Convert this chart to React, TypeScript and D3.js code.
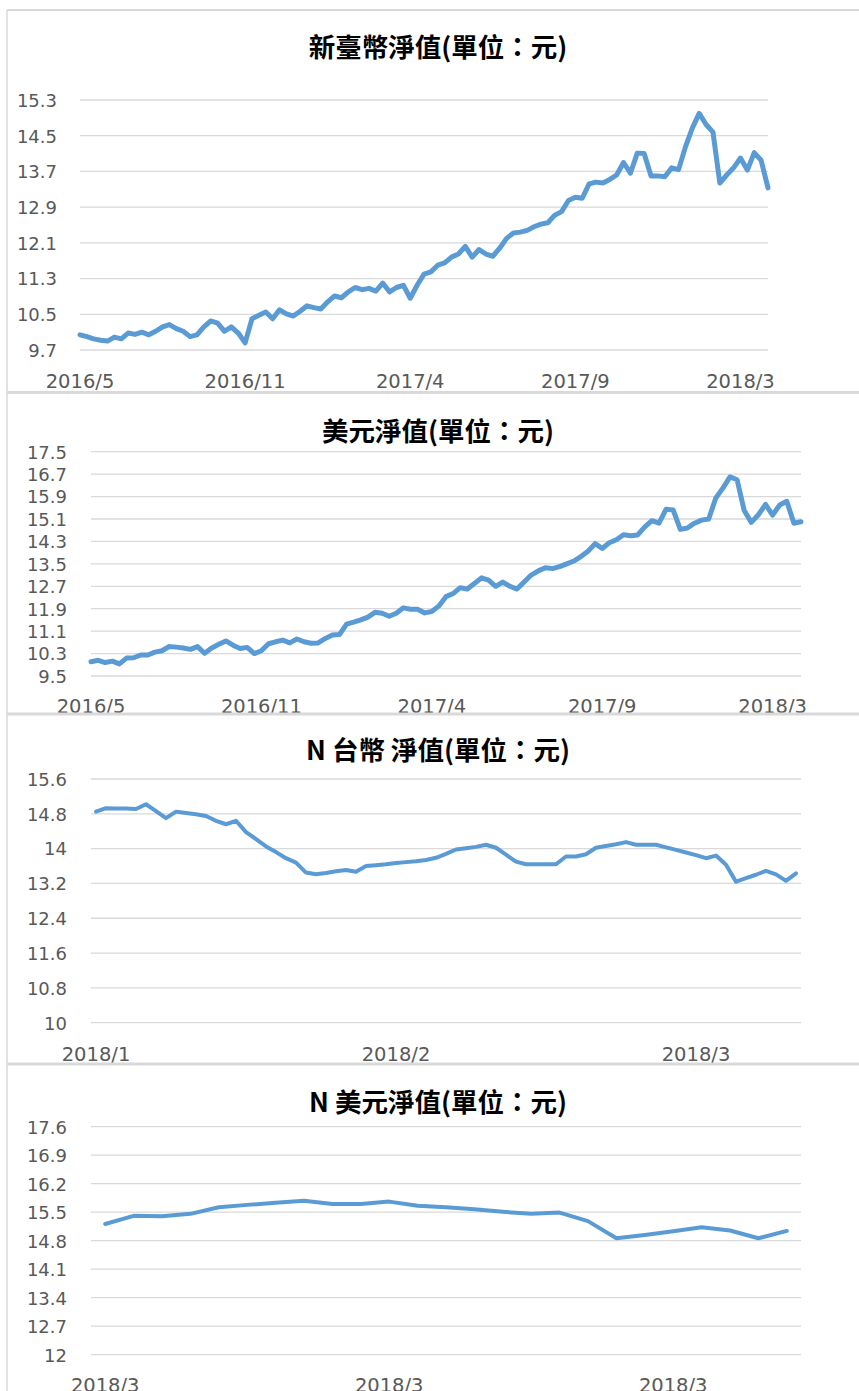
import * as d3 from "d3";

// ---- data ----
const NTD_LABELS = ["2016/5", "2016/11", "2017/4", "2017/9", "2018/3"];
const NTD_TICKS = [9.7, 10.5, 11.3, 12.1, 12.9, 13.7, 14.5, 15.3];
const NTD_VALUES = [
	10.04, 10.0, 9.95, 9.92, 9.9, 9.99, 9.95, 10.08, 10.05, 10.1,
	10.04, 10.12, 10.22, 10.27, 10.18, 10.12, 10.0, 10.04, 10.22, 10.35,
	10.3, 10.12, 10.22, 10.08, 9.86, 10.4, 10.48, 10.55, 10.4, 10.6,
	10.51, 10.46, 10.57, 10.69, 10.65, 10.62, 10.78, 10.91, 10.87, 11.0,
	11.1, 11.05, 11.08, 11.02, 11.2, 11.0, 11.1, 11.15, 10.86, 11.15,
	11.4, 11.45, 11.6, 11.65, 11.78, 11.85, 12.02, 11.78, 11.95, 11.85,
	11.8, 11.98, 12.2, 12.32, 12.34, 12.38, 12.46, 12.52, 12.55, 12.72,
	12.8, 13.05, 13.12, 13.1, 13.42, 13.46, 13.44, 13.52, 13.62, 13.9,
	13.66, 14.11, 14.1, 13.6, 13.6, 13.58, 13.78, 13.74, 14.25, 14.67,
	15.0, 14.75, 14.58, 13.44, 13.62, 13.78, 14.0, 13.73, 14.12, 13.95,
	13.33,
];

const USD_LABELS = ["2016/5", "2016/11", "2017/4", "2017/9", "2018/3"];
const USD_TICKS = [9.5, 10.3, 11.1, 11.9, 12.7, 13.5, 14.3, 15.1, 15.9, 16.7, 17.5];
const USD_VALUES = [
	10.01, 10.06, 9.98, 10.03, 9.93, 10.14, 10.15, 10.25, 10.25, 10.35,
	10.4, 10.55, 10.53, 10.5, 10.45, 10.55, 10.31, 10.5, 10.63, 10.75,
	10.6, 10.48, 10.52, 10.3, 10.4, 10.65, 10.72, 10.78, 10.68, 10.82,
	10.72, 10.67, 10.68, 10.84, 10.96, 10.98, 11.35, 11.42, 11.5, 11.6,
	11.77, 11.74, 11.63, 11.74, 11.93, 11.88, 11.88, 11.75, 11.8, 12.0,
	12.33, 12.44, 12.65, 12.6, 12.8, 13.0, 12.92, 12.7, 12.85, 12.7,
	12.6, 12.85, 13.1, 13.25, 13.36, 13.33, 13.4, 13.5, 13.6, 13.76,
	13.95, 14.22, 14.05, 14.25, 14.36, 14.54, 14.5, 14.53, 14.82, 15.04,
	14.95, 15.45, 15.42, 14.73, 14.78, 14.95, 15.06, 15.1, 15.85, 16.2,
	16.6, 16.5, 15.4, 14.98, 15.25, 15.62, 15.24, 15.6, 15.73, 14.95,
	15.0,
];

const N_NTD_LABELS = ["2018/1", "2018/2", "2018/3"];
const N_NTD_TICKS = [10, 10.8, 11.6, 12.4, 13.2, 14, 14.8, 15.6];
const N_NTD_VALUES = [
	14.85, 14.93, 14.92, 14.92, 14.91, 15.02, 14.86, 14.7, 14.85, 14.82,
	14.79, 14.75, 14.64, 14.56, 14.64, 14.38, 14.22, 14.05, 13.92, 13.78,
	13.68, 13.45, 13.41, 13.44, 13.48, 13.51, 13.47, 13.6, 13.62, 13.64,
	13.67, 13.69, 13.71, 13.74, 13.79, 13.88, 13.98, 14.01, 14.04, 14.09,
	14.02, 13.86, 13.7, 13.64, 13.64, 13.64, 13.64, 13.82, 13.82, 13.87,
	14.02, 14.06, 14.1, 14.15, 14.09, 14.09, 14.09, 14.03, 13.97, 13.91,
	13.85, 13.78, 13.84, 13.63, 13.24, 13.32, 13.4, 13.49, 13.41, 13.26,
	13.43,
];

const N_USD_LABELS = ["2018/3", "2018/3", "2018/3"];
const N_USD_TICKS = [12, 12.7, 13.4, 14.1, 14.8, 15.5, 16.2, 16.9, 17.6];
const N_USD_VALUES = [
	15.21, 15.41, 15.4, 15.46, 15.62, 15.68, 15.73, 15.78, 15.7, 15.7,
	15.76, 15.66, 15.62, 15.57, 15.51, 15.46, 15.49, 15.28, 14.86, 14.94,
	15.03, 15.13, 15.05, 14.86, 15.04,
];

const LINE_COLOR = "#5B9BD5";
const GRID_COLOR = "#D9D9D9";
const TEXT_COLOR = "#595959";
const BORDER_COLOR = "#D9D9D9";
const TICK_FONT = "'DejaVu Sans', sans-serif";
const TITLE_FONT = "'Noto Sans CJK TC', 'Noto Sans CJK SC', sans-serif";

interface PanelProps {
	id: string;
	top: number;
	bottom: number;
	title: string;
	titleY: number;
	values: number[];
	ticks: number[];
	yRange: [number, number];
	xRange: [number, number];
	band: boolean;
	labelEvery: number;
	labels: string[];
	labelY: number;
	tickX: number;
	strokeWidth: number;
}

function LinePanel(p: PanelProps) {
	const idx = p.values.map((_, i) => i);
	let xPos: (i: number) => number;
	if (p.band) {
		const xb = d3.scaleBand<number>().domain(idx).range(p.xRange).padding(0);
		xPos = (i) => (xb(i) as number) + xb.bandwidth() / 2;
	} else {
		const xl = d3.scaleLinear().domain([0, p.values.length - 1]).range(p.xRange);
		xPos = (i) => xl(i);
	}
	const y = d3
		.scaleLinear()
		.domain([p.ticks[0], p.ticks[p.ticks.length - 1]])
		.range(p.yRange);

	const line = d3
		.line<number>()
		.x((_, i) => xPos(i))
		.y((d) => y(d));

	return (
		<g clipPath={`url(#${p.id})`}>
			<defs>
				<clipPath id={p.id}>
					<rect x={0} y={p.top} width={859} height={p.bottom - p.top} />
				</clipPath>
			</defs>
			<rect x={0} y={p.top} width={859} height={p.bottom - p.top} fill="white" />
			<text
				x={438}
				y={p.titleY}
				textAnchor="middle"
				fontFamily={TITLE_FONT}
				fontWeight="bold"
				fontSize={26.5}
				fill="#000"
			>
				{p.title}
			</text>
			{p.ticks.map((t) => (
				<g key={t}>
					<line
						x1={p.xRange[0]}
						x2={p.xRange[1]}
						y1={y(t)}
						y2={y(t)}
						stroke={GRID_COLOR}
						strokeWidth={1.3}
					/>
					<text
						x={p.tickX}
						y={y(t) + 6.8}
						textAnchor="end"
						fontFamily={TICK_FONT}
						fontSize={18}
						fill={TEXT_COLOR}
					>
						{String(t)}
					</text>
				</g>
			))}
			{p.labels.map((lab, k) => (
				<text
					key={k}
					x={xPos(k * p.labelEvery)}
					y={p.labelY}
					textAnchor="middle"
					fontFamily={TICK_FONT}
					fontSize={19.5}
					fill={TEXT_COLOR}
				>
					{lab}
				</text>
			))}
			<path
				d={line(p.values) || ""}
				fill="none"
				stroke={LINE_COLOR}
				strokeWidth={p.strokeWidth}
				strokeLinejoin="round"
				strokeLinecap="round"
			/>
		</g>
	);
}

export default function App() {
	return (
		<svg
			width={859}
			height={1391}
			style={{ position: "absolute", left: 0, top: 0, background: "white" }}
		>
			<LinePanel
				id="clip1"
				top={10}
				bottom={392}
				title="新臺幣淨值(單位：元)"
				titleY={57}
				values={NTD_VALUES}
				ticks={NTD_TICKS}
				yRange={[350, 100]}
				xRange={[80, 768]}
				band={false}
				labelEvery={24}
				labels={NTD_LABELS}
				labelY={388}
				tickX={57}
				strokeWidth={5}
			/>
			<LinePanel
				id="clip2"
				top={392}
				bottom={713}
				title="美元淨值(單位：元)"
				titleY={441}
				values={USD_VALUES}
				ticks={USD_TICKS}
				yRange={[676, 451.7]}
				xRange={[91, 801]}
				band={false}
				labelEvery={24}
				labels={USD_LABELS}
				labelY={713}
				tickX={67}
				strokeWidth={5}
			/>
			<LinePanel
				id="clip3"
				top={713}
				bottom={1063}
				title="N 台幣 淨值(單位：元)"
				titleY={760}
				values={N_NTD_VALUES}
				ticks={N_NTD_TICKS}
				yRange={[1022.7, 779]}
				xRange={[91, 801]}
				band={true}
				labelEvery={30}
				labels={N_NTD_LABELS}
				labelY={1061}
				tickX={67}
				strokeWidth={4}
			/>
			<LinePanel
				id="clip4"
				top={1063}
				bottom={1391}
				title="N 美元淨值(單位：元)"
				titleY={1112}
				values={N_USD_VALUES}
				ticks={N_USD_TICKS}
				yRange={[1354.7, 1126.7]}
				xRange={[91, 801]}
				band={true}
				labelEvery={10}
				labels={N_USD_LABELS}
				labelY={1392}
				tickX={67}
				strokeWidth={4}
			/>
			{/* chart frames */}
			<line x1={7} x2={7} y1={10} y2={1391} stroke={BORDER_COLOR} strokeWidth={1.5} />
			<line x1={7} x2={859} y1={10} y2={10} stroke={BORDER_COLOR} strokeWidth={2} />
			<line x1={7} x2={859} y1={392.5} y2={392.5} stroke={BORDER_COLOR} strokeWidth={3} />
			<line x1={7} x2={859} y1={714} y2={714} stroke={BORDER_COLOR} strokeWidth={3} />
			<line x1={7} x2={859} y1={1064} y2={1064} stroke={BORDER_COLOR} strokeWidth={3} />
		</svg>
	);
}
